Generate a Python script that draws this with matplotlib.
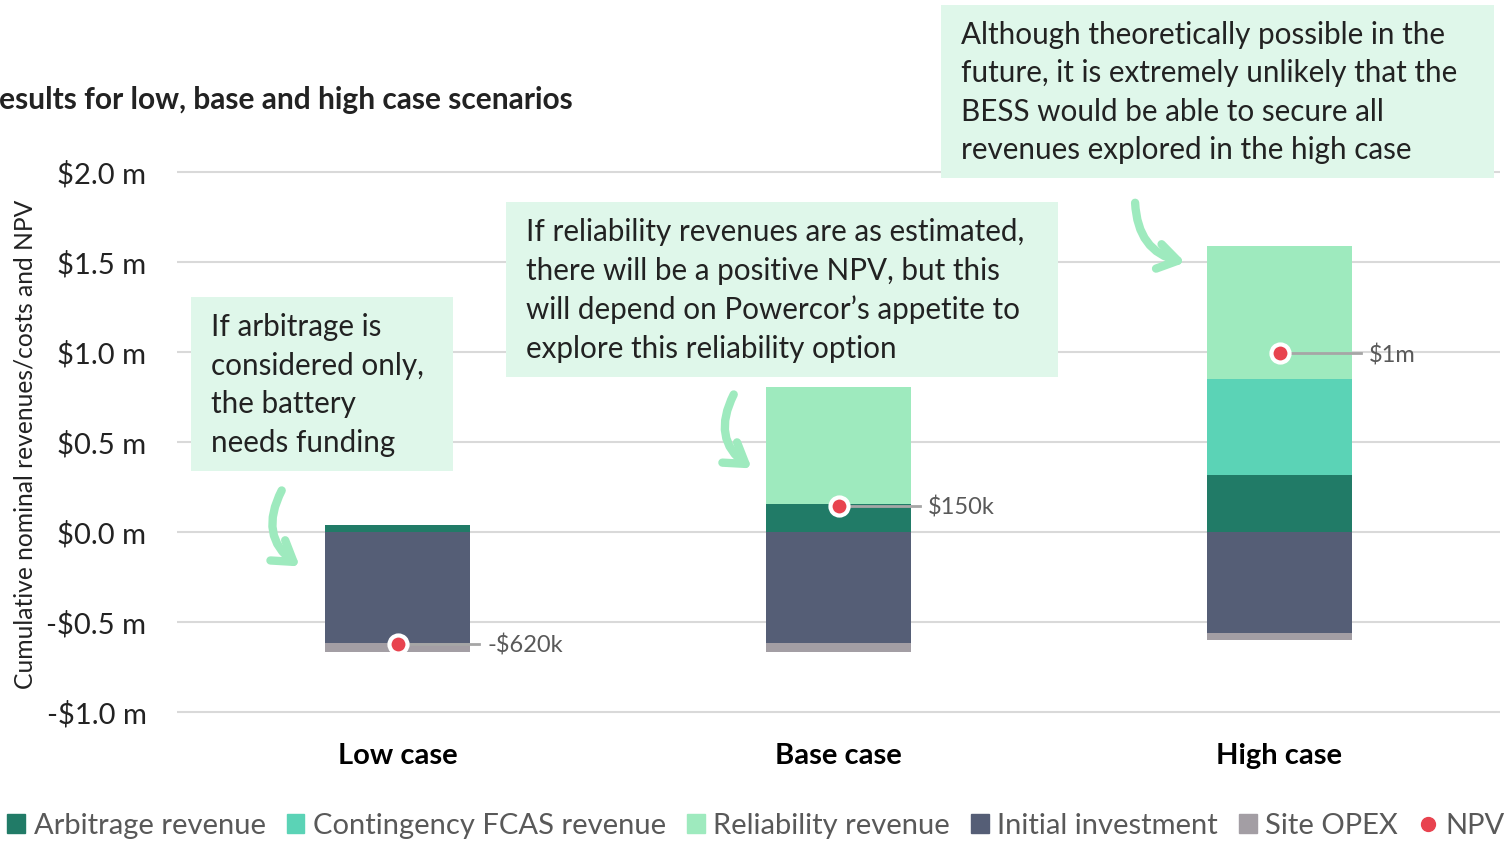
import matplotlib.pyplot as plt
from matplotlib.patches import Rectangle, FancyArrowPatch
from matplotlib.lines import Line2D
from matplotlib.patches import Patch

plt.rcParams['font.family'] = ['Lato', 'DejaVu Sans']

# values in $ m
cases = ["Low case", "Base case", "High case"]
arbitrage = [0.04, 0.154, 0.317]
fcas = [0.0, 0.0, 0.533]
reliability = [0.0, 0.653, 0.74]
investment = [-0.618, -0.615, -0.563]
opex = [-0.047, -0.05, -0.037]
npv = [-0.62, 0.144, 0.993]
npv_labels = ["-$620k", "$150k", "$1m"]
yticks = [-1.0, -0.5, 0.0, 0.5, 1.0, 1.5, 2.0]
ytick_labels = ["-$1.0 m", "-$0.5 m", "$0.0 m", "$0.5 m", "$1.0 m", "$1.5 m", "$2.0 m"]

c_arb = "#217b67"
c_fcas = "#5bd3b6"
c_rel = "#9eeabe"
c_inv = "#555e76"
c_opex = "#a39ea4"
c_npv = "#e8434f"
c_box = "#dff7ea"
txt = "#222222"
gray = "#595959"

W, H = 1511, 843
fig = plt.figure(figsize=(W / 100, H / 100), dpi=100)


def fx(x):
    return x / W


def fy(y):
    return 1 - y / H


# axes: 2.0 at y=172, -1.0 at y=712 -> 180 px per unit
ylo, yhi = -1.05, 2.05
top_px = 172 - (yhi - 2.0) * 180
bot_px = 712 + (-1.0 - ylo) * 180
ax = fig.add_axes([fx(177), fy(bot_px), fx(1500) - fx(177), (bot_px - top_px) / H])
ax.set_xlim(-0.5, 2.5)
ax.set_ylim(ylo, yhi)

x = list(range(len(cases)))
bw = 0.33
ax.bar(x, arbitrage, bw, color=c_arb, zorder=2)
ax.bar(x, fcas, bw, bottom=arbitrage, color=c_fcas, zorder=2)
base3 = [a + f for a, f in zip(arbitrage, fcas)]
ax.bar(x, reliability, bw, bottom=base3, color=c_rel, zorder=2)
ax.bar(x, investment, bw, color=c_inv, zorder=2)
ax.bar(x, opex, bw, bottom=investment, color=c_opex, zorder=2)

for xi, v, lab in zip(x, npv, npv_labels):
    ax.plot([xi, xi + 0.185], [v, v], color="#a6a6a6", lw=2, zorder=4)
    ax.plot(xi, v, "o", ms=13, mfc=c_npv, mec="white", mew=3, zorder=5)
    ax.text(xi + 0.203, v - 0.01, lab, ha="left", va="center", fontsize=17, color=gray)

ax.set_yticks(yticks)
ax.set_yticklabels(ytick_labels, fontsize=21, color=txt)
ax.set_xticks(x)
ax.set_xticklabels(cases, fontsize=21, fontweight="bold", color="black")
ax.tick_params(axis="both", length=0)
ax.tick_params(axis="y", pad=22)
ax.tick_params(axis="x", pad=16)
ax.grid(axis="y", color="#d9d9d9", lw=1.5, zorder=0)
for s in ax.spines.values():
    s.set_visible(False)

fig.text(fx(25), fy(444), "Cumulative nominal revenues/costs and NPV", rotation=90,
         ha="center", va="center", fontsize=17.7, color=txt)

# title (cut off at left, as in the source slide)
fig.text(fx(573), fy(100), "Results for low, base and high case scenarios",
         ha="right", va="center", fontsize=21.5, fontweight="bold", color=txt)

# annotation boxes
boxes = [
    (191, 297, 453, 471, "If arbitrage is\nconsidered only,\nthe battery\nneeds funding"),
    (506, 202, 1058, 377, "If reliability revenues are as estimated,\nthere will be a positive NPV, but this\n"
                          "will depend on Powercor\u2019s appetite to\nexplore this reliability option"),
    (941, 5, 1494, 178, "Although theoretically possible in the\nfuture, it is extremely unlikely that the\n"
                        "BESS would be able to secure all\nrevenues explored in the high case"),
]
for x0, y0, x1, y1, s in boxes:
    fig.patches.append(Rectangle((fx(x0), fy(y1)), fx(x1) - fx(x0), fy(y0) - fy(y1),
                                 transform=fig.transFigure, facecolor=c_box, edgecolor="none", zorder=3))
    fig.text(fx(x0 + 20), fy((y0 + y1) / 2 + 1), s, ha="left", va="center", fontsize=21.3,
             color=txt, linespacing=1.45, zorder=4)

# curved arrows
arrows = [((283, 488), (302, 568), 0.45), ((735, 392), (754, 470), 0.45), ((1135, 200), (1188, 263), 0.4)]
for (sx, sy), (ex, ey), rad in arrows:
    fig.patches.append(FancyArrowPatch((fx(sx), fy(sy)), (fx(ex), fy(ey)), transform=fig.transFigure,
                                       connectionstyle=f"arc3,rad={rad}",
                                       arrowstyle="->,head_length=0.7,head_width=0.45",
                                       color=c_rel, lw=6, capstyle="round", joinstyle="round",
                                       mutation_scale=20, zorder=3))

# legend
handles = [
    Patch(color=c_arb, label="Arbitrage revenue"),
    Patch(color=c_fcas, label="Contingency FCAS revenue"),
    Patch(color=c_rel, label="Reliability revenue"),
    Patch(color=c_inv, label="Initial investment"),
    Patch(color=c_opex, label="Site OPEX"),
    Line2D([], [], marker="o", ls="none", color=c_npv, ms=10, label="NPV"),
]
leg = fig.legend(handles=handles, loc="center", bbox_to_anchor=(fx(756), fy(826)), ncol=6,
                 frameon=False, fontsize=21, handlelength=0.6, handleheight=0.6,
                 handletextpad=0.3, columnspacing=0.72, labelcolor=gray,
                 borderaxespad=0, borderpad=0)

fig.savefig("out.png", dpi=100)
